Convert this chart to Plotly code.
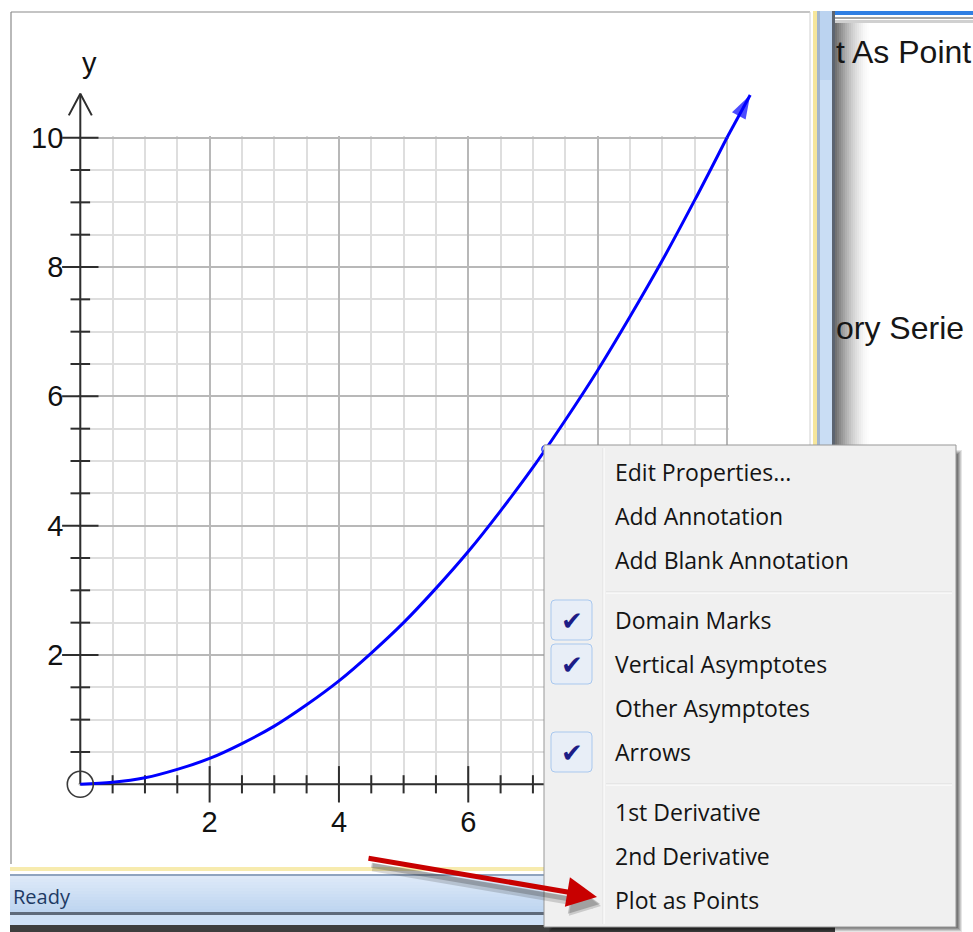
import plotly.graph_objects as go

# ---------------------------------------------------------------- data
curve_x = [0, 0.5, 1, 1.5, 2, 2.5, 3, 3.5, 4, 4.5, 5, 5.5, 6, 6.5, 7, 7.5,
           8, 8.5, 9, 9.5, 10, 10.36]
curve_y = [0, 0.03, 0.1, 0.23, 0.4, 0.63, 0.9, 1.23, 1.6, 2.03, 2.5, 3.03,
           3.6, 4.23, 4.9, 5.63, 6.4, 7.23, 8.1, 9.03, 10.0, 10.66]
selected_x = [7.2]
selected_y = [5.18]

major_ticks = [2, 4, 6, 8, 10]
x_tick_labels = ["2", "4", "6", "", ""]      # 8 and 10 sit under the menu
y_tick_labels = ["2", "4", "6", "8", "10"]
minor_ticks = [0.5, 1, 1.5, 2.5, 3, 3.5, 4.5, 5, 5.5, 6.5, 7, 7.5,
               8.5, 9, 9.5]
axis_top = 10.68
axis_right = 10.6
y_title = "y"

menu_items = ["Edit Properties...", "Add Annotation", "Add Blank Annotation",
              "Domain Marks", "Vertical Asymptotes", "Other Asymptotes",
              "Arrows", "1st Derivative", "2nd Derivative", "Plot as Points"]
menu_groups = [0, 0, 0, 1, 1, 1, 1, 2, 2, 2]
menu_checked = [False, False, False, True, True, False, True,
                False, False, False]
status_text = "Ready"
side_labels = ["t As Point", "ory Serie"]

# -------------------------------------------------------------- layout
W, H = 973, 932
OX, OY = 80.3, 784.3          # pixel position of the origin
UNIT = 64.66                  # pixels per unit on both axes
EPS = 0.03

AXIS_FONT = "Liberation Sans, Arial, sans-serif"
UI_FONT = "Open Sans, Noto Sans, sans-serif"


def px(x):
    return x / W


def py(y):
    return 1 - y / H


shapes = []


def rect(x0, y0, x1, y1, fill, line=None, lw=0, opacity=1.0):
    shapes.append(dict(type="rect", xref="paper", yref="paper",
                       x0=px(x0), x1=px(x1), y0=py(y1), y1=py(y0),
                       fillcolor=fill, opacity=opacity, layer="above",
                       line=dict(color=line or "rgba(0,0,0,0)", width=lw)))


def seg(x0, y0, x1, y1, color, w=1):
    shapes.append(dict(type="line", xref="paper", yref="paper",
                       x0=px(x0), x1=px(x1), y0=py(y0), y1=py(y1),
                       layer="above", line=dict(color=color, width=w)))


def rrect(x0, y0, x1, y1, r, fill, line):
    p = (f"M{px(x0 + r)},{py(y0)} L{px(x1 - r)},{py(y0)} "
         f"Q{px(x1)},{py(y0)} {px(x1)},{py(y0 + r)} "
         f"L{px(x1)},{py(y1 - r)} Q{px(x1)},{py(y1)} {px(x1 - r)},{py(y1)} "
         f"L{px(x0 + r)},{py(y1)} Q{px(x0)},{py(y1)} {px(x0)},{py(y1 - r)} "
         f"L{px(x0)},{py(y0 + r)} Q{px(x0)},{py(y0)} {px(x0 + r)},{py(y0)} Z")
    shapes.append(dict(type="path", xref="paper", yref="paper", path=p,
                       fillcolor=fill, layer="above",
                       line=dict(color=line, width=1)))


fig = go.Figure()

# empty trace so the grid subplot is created (and drawn first)
fig.add_trace(go.Scatter(x=[None], y=[None], xaxis="x", yaxis="y",
                         showlegend=False, hoverinfo="skip"))

AX = dict(xaxis="x2", yaxis="y2", showlegend=False, hoverinfo="skip")
axis_col = "#2E2E2E"

# axes lines
fig.add_trace(go.Scatter(x=[0, axis_right], y=[0, 0], mode="lines",
                         line=dict(color=axis_col, width=2), **AX))
fig.add_trace(go.Scatter(x=[0, 0], y=[0, axis_top], mode="lines",
                         line=dict(color=axis_col, width=2), **AX))
# open chevron on top of the y axis
fig.add_trace(go.Scatter(x=[-0.178, 0, 0.178],
                         y=[axis_top - 0.335, axis_top, axis_top - 0.335],
                         mode="lines", line=dict(color=axis_col, width=2), **AX))


# ticks crossing the axes
def tick_marks(vals, on_x, size):
    zeros = [0] * len(vals)
    fig.add_trace(go.Scatter(
        x=vals if on_x else zeros, y=zeros if on_x else vals, mode="markers",
        marker=dict(symbol="line-ns" if on_x else "line-ew", size=size,
                    color=axis_col, line=dict(color=axis_col, width=2)),
        **AX))


tick_marks(major_ticks, True, 26)
tick_marks(minor_ticks, True, 13)
tick_marks(major_ticks, False, 26)
tick_marks(minor_ticks, False, 14)

# the function curve with its end arrow (arrow tip sits on the last point)
fig.add_trace(go.Scatter(x=curve_x[:-1], y=curve_y[:-1], mode="lines",
                         line=dict(color="#0000FF", width=3, shape="spline"),
                         **AX))
fig.add_trace(go.Scatter(x=curve_x[-2:], y=curve_y[-2:], mode="lines",
                         line=dict(color="#0000FF", width=3), **AX))
fig.add_trace(go.Scatter(x=curve_x[-2:], y=curve_y[-2:], mode="markers",
                         marker=dict(symbol="arrow", size=[0, 25],
                                     angleref="previous", color="#0000FF",
                                     line=dict(width=0)), **AX))
# domain mark at the origin and the selected point
fig.add_trace(go.Scatter(x=[curve_x[0]], y=[curve_y[0]], mode="markers",
                         marker=dict(symbol="circle-open", size=26,
                                     color="#3A3A3A",
                                     line=dict(color="#3A3A3A", width=1.6)),
                         **AX))
fig.add_trace(go.Scatter(x=selected_x, y=selected_y, mode="markers",
                         marker=dict(symbol="circle-open", size=8,
                                     color="#2030FF",
                                     line=dict(color="#2030FF", width=1.4)),
                         **AX))

# ------------------------------------------------------ window chrome
# graph window frame
seg(11, 12, 810, 12, "#8A8A8A", 1.2)
seg(11, 12, 11, 864, "#8A8A8A", 1.2)
seg(810, 12, 810, 864, "#D0D0D0", 1)

# splitter between panes
rect(811, 11, 814, 870, "#FFFFFF")
rect(813, 11, 817, 870, "#F6E69C")
rect(817, 11, 820, 870, "#A3B6CE")
rect(820, 11, 832, 870, "#C9DDF4")
rect(820, 11, 832, 80, "#BBD3F0")
rect(832, 11, 835, 870, "#5C6470")
# drop shadow on the right pane
for i in range(17):
    rect(835 + 2 * i, 23, 837 + 2 * i, 880, "#3C3C3C",
         opacity=0.72 * (1 - i / 17) ** 1.6)
# right pane top edge
rect(835, 11, 973, 15, "#2F7FE3")
rect(835, 17, 973, 19, "#A4A4A4")
rect(835, 20, 973, 23, "#D0D0D0")

# status bar
rect(10, 867, 835, 871, "#F7EBAE")
rect(10, 874, 835, 876, "#8FA4BF")
for i in range(12):
    t = i / 11
    c0 = (221, 233, 248)
    c1 = (190, 213, 240)
    c = tuple(round(c0[k] + (c1[k] - c0[k]) * t) for k in range(3))
    rect(10, 876 + i * 3, 835, 879 + i * 3, "rgb(%d,%d,%d)" % c)
rect(10, 912, 835, 915, "#5E6A7A")
rect(10, 915, 835, 925, "#CFE1F6")
rect(10, 925, 835, 932, "#3E3E3E")

# context menu: shadow, body, separators
for i, op in enumerate([0.10, 0.12, 0.14, 0.16, 0.18]):
    rect(549 + i, 450 + i, 962 - i, 932 - i, "#000000", opacity=op)
rect(544, 445, 956, 927, "#F0F0F0", "#979797", 1)
seg(603, 448, 603, 924, "#E0E0E0", 1)
seg(604, 448, 604, 924, "#FFFFFF", 1)

ROW0, ROW_H, GROUP_GAP = 471, 44, 16
row_y = [ROW0 + ROW_H * i + GROUP_GAP * g for i, g in enumerate(menu_groups)]
for i in range(1, len(menu_groups)):
    if menu_groups[i] != menu_groups[i - 1]:
        ys = (row_y[i - 1] + row_y[i]) / 2 + 3
        seg(606, ys, 952, ys, "#DCDCDC", 1)
        seg(606, ys + 1, 952, ys + 1, "#FFFFFF", 1)

annotations = []
for label, y, checked in zip(menu_items, row_y, menu_checked):
    if checked:
        rrect(551, y - 19, 592, y + 21, 4, "#E8EEF7", "#A9C8EE")
        annotations.append(dict(x=px(572), y=py(y + 2), xref="paper",
                                yref="paper", text="✔", showarrow=False,
                                xanchor="center", yanchor="middle",
                                font=dict(family="DejaVu Sans", size=26,
                                          color="#1C1C86")))
    annotations.append(dict(x=px(613), y=py(y + 1), xref="paper",
                            yref="paper", text=label, showarrow=False,
                            xanchor="left", yanchor="middle",
                            font=dict(family=UI_FONT, size=23,
                                      color="#141414")))

# red pointer arrow (soft shadow first)
for dx, dy, col, w in [(4, 9, "rgba(40,40,40,0.18)", 8),
                       (3, 7, "rgba(40,40,40,0.25)", 5)]:
    annotations.append(dict(x=px(597 + dx), y=py(897 + dy), xref="paper",
                            yref="paper", ax=-230, ay=-39, text="",
                            showarrow=True, arrowhead=2,
                            arrowsize=6.0 / w, arrowwidth=w,
                            arrowcolor=col))
annotations.append(dict(x=px(597), y=py(897), xref="paper", yref="paper",
                        ax=-230, ay=-39, text="", showarrow=True,
                        arrowhead=2, arrowsize=1.2, arrowwidth=5,
                        arrowcolor="#C80000"))

# texts
annotations.append(dict(x=px(89), y=py(63), xref="paper", yref="paper",
                        text=y_title, showarrow=False, xanchor="center",
                        yanchor="middle",
                        font=dict(family=AXIS_FONT, size=29, color="#111")))
annotations.append(dict(x=px(11), y=py(896), xref="paper", yref="paper",
                        text=status_text, showarrow=False, xanchor="left",
                        yanchor="middle",
                        font=dict(family=UI_FONT, size=20, color="#1E3A64")))
for label, y in zip(side_labels, [52, 328]):
    annotations.append(dict(x=px(834), y=py(y), xref="paper", yref="paper",
                            text=label, showarrow=False, xanchor="left",
                            yanchor="middle",
                            font=dict(family=AXIS_FONT, size=32,
                                      color="#161616")))

tickfont = dict(family=AXIS_FONT, size=29, color="#111111")
grid_common = dict(range=[-EPS, 10 + EPS], tickmode="array",
                   tickvals=major_ticks,
                   showgrid=True, gridcolor="#B8B8B8", gridwidth=2,
                   minor=dict(tickmode="linear", tick0=0, dtick=0.5,
                              showgrid=True, gridcolor="#DEDEDE",
                              gridwidth=2),
                   zeroline=False, showline=False, ticks="",
                   automargin=False, tickfont=tickfont, fixedrange=True)

fig.update_layout(
    width=W, height=H, autosize=False,
    margin=dict(l=0, r=0, t=0, b=0, pad=0, autoexpand=False),
    paper_bgcolor="white", plot_bgcolor="rgba(0,0,0,0)",
    showlegend=False,
    xaxis=dict(domain=[px(OX - EPS * UNIT), px(OX + (10 + EPS) * UNIT)],
               anchor="y", ticklabelstandoff=16, ticktext=x_tick_labels,
               **grid_common),
    yaxis=dict(domain=[py(OY + EPS * UNIT), py(OY - (10 + EPS) * UNIT)],
               anchor="x", ticklabelstandoff=14, ticktext=y_tick_labels,
               **grid_common),
    xaxis2=dict(domain=[0, 1], range=[-OX / UNIT, (W - OX) / UNIT],
                anchor="y2", visible=False, fixedrange=True),
    yaxis2=dict(domain=[0, 1], range=[-(H - OY) / UNIT, OY / UNIT],
                anchor="x2", visible=False, fixedrange=True),
    shapes=shapes,
    annotations=annotations,
)

fig.write_html("out.html")
